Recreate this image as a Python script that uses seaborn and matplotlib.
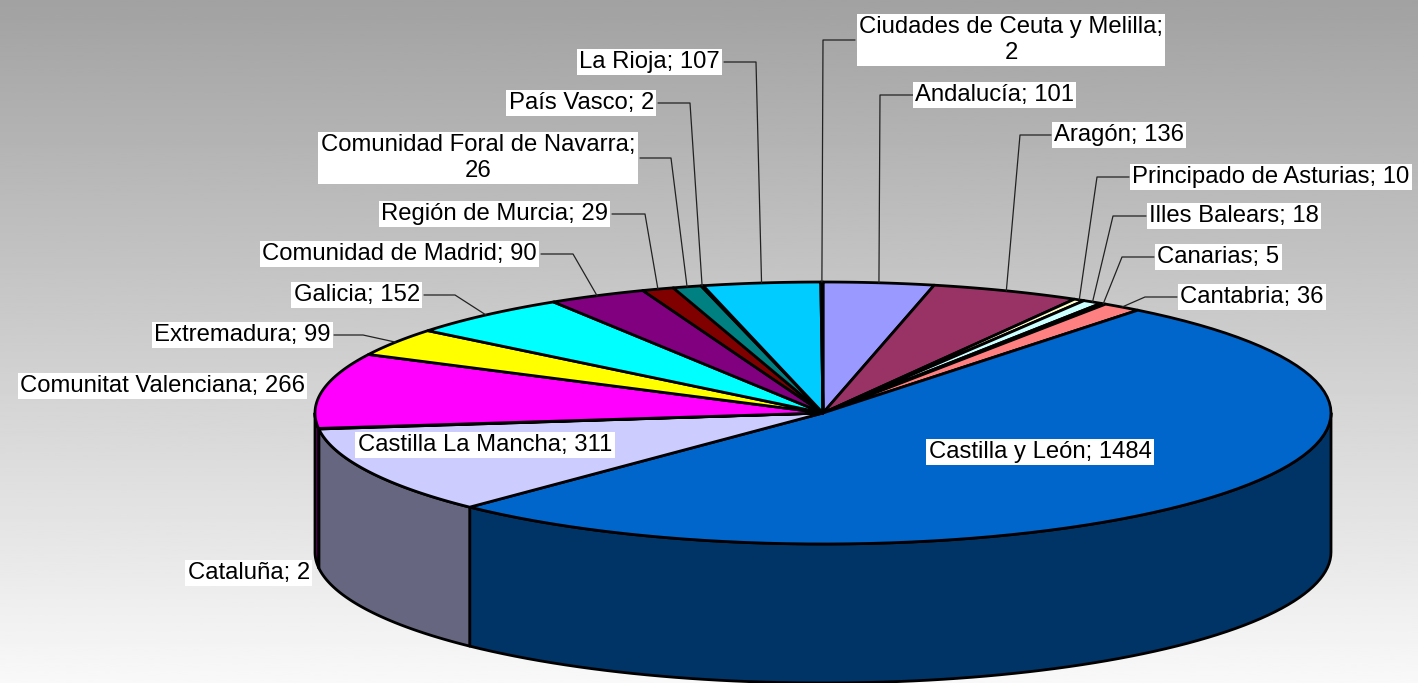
import numpy as np
import matplotlib
matplotlib.use("Agg")  # no display, write straight to file
import matplotlib.pyplot as plt
from matplotlib.patches import Polygon
import seaborn as sns

# --- Data ---
regions = ["Andalucía", "Aragón", "Principado de Asturias", "Illes Balears", "Canarias",
           "Cantabria", "Castilla y León", "Castilla La Mancha", "Cataluña",
           "Comunitat Valenciana", "Extremadura", "Galicia", "Comunidad de Madrid",
           "Región de Murcia", "Comunidad Foral de Navarra", "País Vasco", "La Rioja",
           "Ciudades de Ceuta y Melilla"]
counts = [101, 136, 10, 18, 5, 36, 1484, 311, 2, 266, 99, 152, 90, 29, 26, 2, 107, 2]
colors = ["#9999FF", "#993366", "#FFFFCC", "#CCFFFF", "#660066", "#FF8080", "#0066CC",
          "#CCCCFF", "#000080", "#FF00FF", "#FFFF00", "#00FFFF", "#800080", "#800000",
          "#008080", "#0000FF", "#00CCFF", "#CCFFFF"]
wrapped = ["Ciudades de Ceuta y Melilla", "Comunidad Foral de Navarra"]

# --- Label layout: text x, text y, alignment, leader start x, leader elbow x ---
label_pos = {
    "Ciudades de Ceuta y Melilla": (1011, 40, "center", 855, 823),
    "Andalucía": (915, 95, "left", 913, 880),
    "Aragón": (1054, 135, "left", 1051, 1020),
    "Principado de Asturias": (1132, 177, "left", 1129, 1097),
    "Illes Balears": (1149, 216, "left", 1146, 1113),
    "Canarias": (1157, 257, "left", 1154, 1122),
    "Cantabria": (1180, 297, "left", 1177, 1145),
    "Castilla y León": (1040, 452, "center", None, None),
    "Castilla La Mancha": (485, 445, "center", None, None),
    "Cataluña": (310, 573, "right", None, None),
    "Comunitat Valenciana": (305, 386, "right", None, None),
    "Extremadura": (331, 335, "right", 334, 363),
    "Galicia": (420, 295, "right", 424, 455),
    "Comunidad de Madrid": (537, 254, "right", 541, 573),
    "Región de Murcia": (608, 214, "right", 612, 645),
    "Comunidad Foral de Navarra": (478, 158, "center", 640, 671),
    "País Vasco": (654, 103, "right", 658, 690),
    "La Rioja": (720, 62, "right", 724, 756),
}

# --- Pie geometry (pixels) ---
cx, cy, rx, ry, depth = 823, 413, 508, 131, 139


def side_color(c):
    r, g, b = matplotlib.colors.to_rgb(c)
    return (r * 0.5, g * 0.5, b * 0.5)


def rim(t1, t2, n=80):
    t = np.radians(np.linspace(t1, t2, n))
    return cx + rx * np.sin(t), cy - ry * np.cos(t)


sns.set_theme(style="white")
plt.rcParams["font.family"] = ["Liberation Sans", "DejaVu Sans"]

fig = plt.figure(figsize=(14.18, 6.83), dpi=100)
ax = fig.add_axes([0, 0, 1, 1])
ax.set_xlim(0, 1418)
ax.set_ylim(683, 0)
ax.axis("off")

# background gradient, gray at top to near white at bottom
grad = np.linspace(0.635, 0.975, 256).reshape(-1, 1)
ax.imshow(grad, cmap="gray", vmin=0, vmax=1, extent=[0, 1418, 683, 0], aspect="auto", zorder=0)

vals = np.array(counts, dtype=float)
edges = np.concatenate([[0], np.cumsum(vals)]) / vals.sum() * 360

# front walls (only the part facing the viewer, 90..270 degrees)
for i, col in enumerate(colors):
    lo, hi = max(edges[i], 90), min(edges[i + 1], 270)
    if hi <= lo:
        continue
    xs, ys = rim(lo, hi)
    px = np.concatenate([xs, xs[::-1]])
    py = np.concatenate([ys, ys[::-1] + depth])
    ax.add_patch(Polygon(np.column_stack([px, py]), closed=True, facecolor=side_color(col),
                         edgecolor="black", lw=2.0, joinstyle="round", zorder=2))

# top faces
for i, col in enumerate(colors):
    xs, ys = rim(edges[i], edges[i + 1])
    px = np.concatenate([[cx], xs])
    py = np.concatenate([[cy], ys])
    ax.add_patch(Polygon(np.column_stack([px, py]), closed=True, facecolor=col,
                         edgecolor="black", lw=2.0, joinstyle="round", zorder=3))

# labels and leader lines
for i, name in enumerate(regions):
    tx, ty, ha, sx, ex = label_pos[name]
    txt = f"{name};\n{counts[i]}" if name in wrapped else f"{name}; {counts[i]}"
    ax.text(tx, ty, txt, ha=ha, va="center", multialignment="center", fontsize=17.2,
            color="black", linespacing=1.2, zorder=6,
            bbox=dict(facecolor="white", edgecolor="none", pad=1.8))
    if sx is not None:
        mid = np.radians((edges[i] + edges[i + 1]) / 2)
        px = cx + rx * np.sin(mid)
        py = cy - ry * np.cos(mid)
        ax.plot([sx, ex, px], [ty, ty, py], color="#222222", lw=0.9, zorder=5)

fig.savefig("out.png", dpi=100)
